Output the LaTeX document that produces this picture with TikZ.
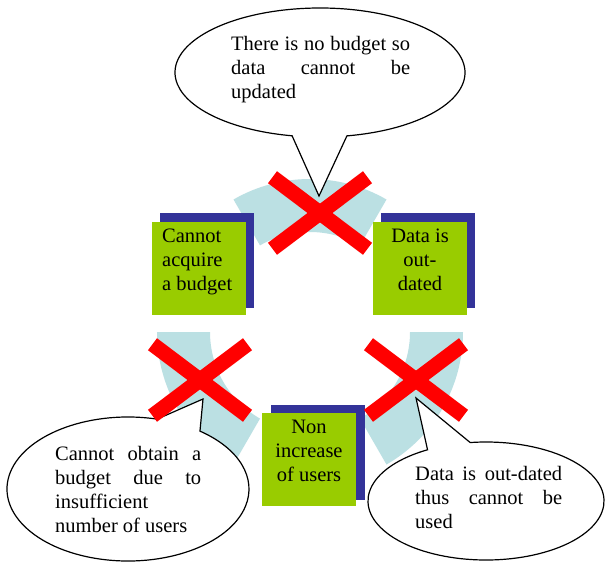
\documentclass[tikz,border=0pt]{standalone}
\usepackage{fontspec}
\setmainfont{Liberation Serif}
\definecolor{ringblue}{RGB}{187,224,227}
\definecolor{boxgreen}{RGB}{153,204,0}
\definecolor{shadowblue}{RGB}{51,51,153}
\definecolor{xred}{RGB}{255,0,0}
\newcommand{\jline}[2]{\makebox[#1][s]{#2}}
\begin{document}
\begin{tikzpicture}[x=1pt,y=1pt,
  ringseg/.style={fill=ringblue,draw=none},
  greenbox/.style={fill=boxgreen,draw=none,minimum width=94pt,minimum height=93pt,inner sep=0pt,anchor=north west},
  shadowbox/.style={fill=shadowblue,draw=none,minimum width=94pt,minimum height=95pt,inner sep=0pt,anchor=north west},
  xbar/.style={draw=xred,line width=15pt,line cap=butt},
  callout/.style={draw=black,fill=white,line width=1.2pt,line join=miter},
  txt/.style={inner sep=0pt,font=\fontsize{20.5}{24.5}\selectfont}
]
\useasboundingbox[fill=white] (0,-563) rectangle (605,0);

% ring segments
\coordinate (c) at (310,-332);
\path[ringseg] ([shift={(60:153)}]c) arc[start angle=60,end angle=120,radius=153]
  -- ([shift={(120:100)}]c) arc[start angle=120,end angle=60,radius=100] -- cycle;
\path[ringseg] ([shift={(180:153)}]c) arc[start angle=180,end angle=240,radius=153]
  -- ([shift={(240:100)}]c) arc[start angle=240,end angle=180,radius=100] -- cycle;
\path[ringseg] ([shift={(300:153)}]c) arc[start angle=300,end angle=360,radius=153]
  -- ([shift={(0:100)}]c) arc[start angle=360,end angle=300,radius=100] -- cycle;

% boxes
\node[shadowbox] (s1) at (160,-213) {};
\node[greenbox] (b1) at (152,-222) {};
\node[shadowbox] (s2) at (381,-213) {};
\node[greenbox] (b2) at (373,-222) {};
\node[shadowbox] (s3) at (271,-405) {};
\node[greenbox] (b3) at (262,-413) {};

\node[txt,anchor=base west] (b1a) at (162,-242) {Cannot};
\node[txt,anchor=base west] (b1b) at (162,-266) {acquire};
\node[txt,anchor=base west] (b1c) at (162,-290) {a budget};

\node[txt,anchor=base] (b2a) at (420,-242) {Data is};
\node[txt,anchor=base] (b2b) at (420,-266) {out-};
\node[txt,anchor=base] (b2c) at (420,-290) {dated};

\node[txt,anchor=base] (b3a) at (309,-433) {Non};
\node[txt,anchor=base] (b3b) at (309,-457) {increase};
\node[txt,anchor=base] (b3c) at (309,-481) {of users};

% callouts
\coordinate (e1) at (320,-72.5);
\coordinate (tip1) at (319,-196);
\draw[callout] ([shift={(-79.3:145 and 64.5)}]e1)
  arc[start angle=-79.3,end angle=258.9,x radius=145,y radius=64.5] -- (tip1) -- cycle;

\coordinate (e2) at (128,-489);
\coordinate (tip2) at (203,-399);
\draw[callout] ([shift={(76.1:121 and 72)}]e2)
  arc[start angle=76.1,end angle=413.5,x radius=121,y radius=72] -- (tip2) -- cycle;

\coordinate (e3) at (486,-501);
\coordinate (tip3) at (416,-398);
\draw[callout] ([shift={(119.7:118 and 59)}]e3)
  arc[start angle=119.7,end angle=457.7,x radius=118,y radius=59] -- (tip3) -- cycle;

% callout texts
\node[txt,anchor=base west] (t1a) at (231,-50) {\jline{179pt}{There is no budget so}};
\node[txt,anchor=base west] (t1b) at (231,-74) {\jline{179pt}{data cannot be}};
\node[txt,anchor=base west] (t1c) at (231,-98) {updated};

\node[txt,anchor=base west] (t2a) at (55,-460) {\jline{146pt}{Cannot obtain a}};
\node[txt,anchor=base west] (t2b) at (55,-484) {\jline{146pt}{budget due to}};
\node[txt,anchor=base west] (t2c) at (55,-508) {insufficient};
\node[txt,anchor=base west] (t2d) at (55,-532) {number of users};

\node[txt,anchor=base west] (t3a) at (415,-480) {\jline{147pt}{Data is out-dated}};
\node[txt,anchor=base west] (t3b) at (415,-504) {\jline{147pt}{thus cannot be}};
\node[txt,anchor=base west] (t3c) at (415,-528) {used};

% red crosses
\coordinate (x1) at (320,-213);
\coordinate (x2) at (200,-380);
\coordinate (x3) at (416,-380);
\foreach \p in {x1,x2,x3}{
  \draw[xbar] ([shift={(-47.5,35.8)}]\p) -- ([shift={(47.5,-35.8)}]\p);
  \draw[xbar] ([shift={(-47.5,-35.8)}]\p) -- ([shift={(47.5,35.8)}]\p);
}
\end{tikzpicture}
\end{document}
